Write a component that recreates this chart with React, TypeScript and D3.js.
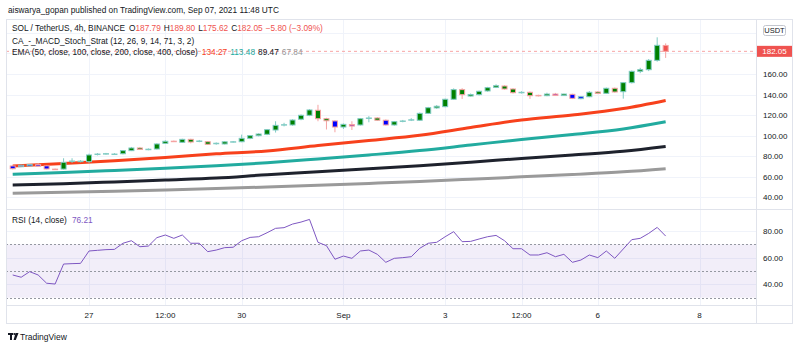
import React from "react";
import * as d3 from "d3";

// ---------- data ----------
const opens = [70.5,71.0,71.2,71.8,70.6,67.4,67.5,74.6,75.0,74.7,81.6,82.1,81.8,82.4,85.4,88.0,86.5,87.0,92.5,94.6,93.5,96.4,94.6,94.1,92.4,91.9,93.9,94.1,97.4,100.0,101.3,105.5,110.5,110.4,116.0,119.8,124.7,116.5,114.3,108.4,110.8,110.4,116.9,117.2,115.0,110.4,114.0,115.2,115.0,121.7,127.0,128.2,135.4,144.8,139.0,139.9,143.5,147.0,148.3,145.4,141.9,142.2,139.2,138.9,140.5,139.0,140.2,136.0,137.9,142.5,141.2,146.1,142.8,151.6,162.6,164.2,173.3,187.79];
const highs = [71.2,71.6,72.4,73.2,71.0,67.9,78.0,78.0,76.2,82.5,83.0,83.2,83.0,86.0,89.0,89.0,87.6,92.5,95.5,95.2,97.0,97.0,95.8,94.6,93.4,94.6,94.8,101.0,100.6,102.3,106.4,114.0,112.5,116.0,120.6,125.8,130.0,117.4,115.0,111.8,114.0,117.2,119.0,118.0,115.8,114.2,115.3,117.0,122.5,128.0,129.8,136.0,146.0,146.2,141.0,143.8,147.5,150.0,149.0,146.2,143.2,143.0,139.8,141.8,141.6,140.8,140.8,138.4,143.4,143.4,146.8,146.8,152.2,163.3,166.0,174.6,195.7,189.80];
const lows = [67.2,70.4,70.8,70.6,67.2,66.8,67.0,73.5,74.0,73.5,80.8,81.5,81.3,81.8,85.0,86.8,85.8,86.5,92.0,93.8,93.0,92.5,93.6,91.2,91.2,91.4,93.3,93.6,96.5,99.3,100.5,103.0,109.0,109.6,115.0,119.0,114.0,106.0,103.3,106.5,105.5,109.8,113.0,114.4,109.8,109.6,113.0,114.2,114.4,121.0,126.0,127.6,134.8,135.7,138.0,139.0,142.8,146.3,144.8,141.0,141.0,135.8,138.2,138.4,139.2,138.6,135.6,135.4,137.4,140.4,140.6,141.8,136.0,150.8,160.8,162.8,172.0,175.62];
const closes = [67.8,71.2,72.0,71.0,67.6,67.2,74.0,75.3,75.2,81.2,82.1,82.5,82.1,85.4,88.0,87.4,86.8,91.9,94.5,94.4,96.4,93.8,94.8,91.6,92.6,94.0,94.1,97.4,100.0,101.6,105.8,110.0,110.7,115.2,119.8,125.0,116.5,114.5,108.4,111.0,110.2,116.5,117.2,115.0,110.4,113.6,114.3,115.5,121.7,127.2,128.6,135.4,144.8,139.9,140.0,143.2,146.7,148.6,145.4,141.8,142.2,138.9,138.9,140.5,139.6,140.5,136.3,137.9,142.2,141.2,146.1,142.5,151.6,162.6,164.2,173.3,187.9,182.05];
// body colour code: g green, b blue, p purple, n none (doji), r red
const bodyCodes = [
  "b","p","b","b","b","n","g","n","n","g",
  "n","n","n","g","g","g","n","g","g","n",
  "g","g","n","g","n","g","n","g","g","g",
  "g","g","n","g","g","g","g","g","b","g",
  "p","g","n","g","b","g","n","n","g","g",
  "g","g","g","g","g","g","g","g","g","g",
  "n","g","n","g","p","g","b","b","g","g",
  "g","g","g","g","g","g","g","r",
];

const emaIdx = [0,6,12,18,24,30,36,42,48,54,60,66,72,77];
const ema50 = [70.5,72.9,75.6,78.7,82.3,85.1,90.4,95.3,100.3,107.9,115.2,120.1,126.4,134.27];
const ema100 = [62.4,64.1,66.1,68.2,70.7,73.6,77.3,81.2,85.5,90.9,96.3,101.1,106.5,113.48];
const ema200 = [52.0,53.3,55.0,56.8,58.7,62.0,64.8,67.8,70.8,74.2,77.8,81.2,84.8,89.47];
const ema400 = [43.9,44.9,46.0,47.2,48.5,50.0,51.7,53.5,55.4,57.6,59.9,62.2,64.8,67.84];

const rsi = [47.0,45.3,49.5,47.0,40.8,40.2,55.2,55.5,55.7,65.0,65.5,66.0,66.2,70.8,72.7,68.2,68.7,75.0,77.0,74.5,77.0,70.8,70.8,64.5,65.7,67.5,67.8,72.7,75.2,75.7,78.7,82.0,82.5,85.2,86.7,88.7,71.5,69.0,58.8,61.2,59.5,65.0,65.7,62.5,56.5,59.5,60.0,60.7,67.0,70.8,71.5,75.7,79.5,72.0,72.2,74.0,75.7,76.7,72.7,66.7,66.7,62.0,62.0,63.7,60.7,62.5,56.5,58.2,62.0,60.0,65.0,59.5,66.5,73.5,74.5,78.2,82.7,76.21];

const priceTicks = [40,60,80,100,120,140,160];
const priceGrid = [40,60,80,100,120,140,160,180,200];
const rsiTicks = [40,60,80];
const rsiDashed = [30,50,70];
const timeLabels = [
  { t: Date.UTC(2021,7,27,0), label: "27" },
  { t: Date.UTC(2021,7,28,12), label: "12:00" },
  { t: Date.UTC(2021,7,30,0), label: "30" },
  { t: Date.UTC(2021,8,1,0), label: "Sep" },
  { t: Date.UTC(2021,8,3,0), label: "3" },
  { t: Date.UTC(2021,8,4,12), label: "12:00" },
  { t: Date.UTC(2021,8,6,0), label: "6" },
  { t: Date.UTC(2021,8,8,0), label: "8" },
];
const START = Date.UTC(2021,7,25,12);
const BAR = 4 * 3600 * 1000;
const candleTimes = closes.map((_, i) => START + i * BAR);
const lastPrice = 182.05;

// ---------- layout ----------
const L = 6, R = 756, AX = 793, TOP = 20, MAINB = 209, RSIB = 305, BOT = 323;
const FONT = "'Liberation Sans', Arial, sans-serif";
const TXT = "#131722";
const TEAL = "#80cbc4";
const SALMON = "#f5a3a2";

export default function App() {
  const x = d3.scaleTime().domain([candleTimes[0], candleTimes[candleTimes.length - 1]]).range([12.7, 665.66]);
  const y = d3.scaleLinear().domain([40, 160]).range([197.3, 74]);
  const ry = d3.scaleLinear().domain([40, 80]).range([284.3, 231]);

  const emaLine = (vals: number[]) =>
    d3.line<number>().x((_, k) => x(candleTimes[emaIdx[k]])).y((v) => y(v)).curve(d3.curveMonotoneX)(vals) || "";
  const rsiLine = d3.line<number>().x((_, i) => x(candleTimes[i])).y((v) => ry(v))(rsi) || "";

  const fillFor = (c: string) =>
    c === "g" ? "#008000" : c === "b" ? "#0000ff" : c === "p" ? "#9c27b0" : c === "r" ? "#f05350" : null;

  const bw = 5;

  return (
    <svg width={800} height={348} style={{ position: "absolute", left: 0, top: 0, background: "#fff" }} fontFamily={FONT}>
      <defs>
        <clipPath id="mainClip"><rect x={L} y={TOP} width={R - L} height={MAINB - TOP} /></clipPath>
        <clipPath id="rsiClip"><rect x={L} y={MAINB} width={R - L} height={RSIB - MAINB} /></clipPath>
      </defs>
      <rect x={0} y={0} width={800} height={348} fill="#fff" />
      <text x={8} y={13} fontSize={8.3} fill={TXT}>aiswarya_gopan published on TradingView.com, Sep 07, 2021 11:48 UTC</text>

      {/* grid */}
      <g stroke="#f0f3fa" strokeWidth={1}>
        {timeLabels.map((d, i) => (
          <line key={"v" + i} x1={Math.round(x(d.t)) + 0.5} x2={Math.round(x(d.t)) + 0.5} y1={TOP} y2={RSIB} />
        ))}
        <g clipPath="url(#mainClip)">
          {priceGrid.map((p) => (
            <line key={"h" + p} x1={L} x2={R} y1={Math.round(y(p)) + 0.5} y2={Math.round(y(p)) + 0.5} />
          ))}
        </g>
        {rsiTicks.map((p) => (
          <line key={"r" + p} x1={L} x2={R} y1={Math.round(ry(p)) + 0.5} y2={Math.round(ry(p)) + 0.5} />
        ))}
      </g>

      {/* RSI band */}
      <rect x={L} y={ry(70)} width={R - L} height={ry(30) - ry(70)} fill="rgba(126,87,194,0.1)" />
      <g stroke="#9598a1" strokeDasharray="2,2" strokeWidth={1}>
        {rsiDashed.map((p) => (
          <line key={"d" + p} x1={L} x2={R} y1={Math.round(ry(p)) + 0.5} y2={Math.round(ry(p)) + 0.5} />
        ))}
      </g>
      <g clipPath="url(#rsiClip)">
        <path d={rsiLine} fill="none" stroke="#7e57c2" strokeWidth={1} />
      </g>

      {/* main pane */}
      <g clipPath="url(#mainClip)">
        <line x1={L} x2={R} y1={y(lastPrice)} y2={y(lastPrice)} stroke="#f7a5a5" strokeDasharray="3,3" strokeWidth={1} />
        <path d={emaLine(ema400)} fill="none" stroke="#9a9a9a" strokeWidth={3} />
        <path d={emaLine(ema200)} fill="none" stroke="#1e222d" strokeWidth={3} />
        <path d={emaLine(ema100)} fill="none" stroke="#22ab9f" strokeWidth={3} />
        <path d={emaLine(ema50)} fill="none" stroke="#f7411c" strokeWidth={3} />
        {closes.map((c, i) => {
          const o = opens[i];
          const cx = x(candleTimes[i]);
          const code = bodyCodes[i];
          const up = c >= o;
          const border = code === "r" ? SALMON : up ? TEAL : SALMON;
          const fill = fillFor(code);
          const top = y(Math.max(o, c));
          const h = Math.max(1.5, y(Math.min(o, c)) - top);
          return (
            <g key={i}>
              <line x1={cx} x2={cx} y1={y(highs[i])} y2={y(lows[i])} stroke={border} strokeWidth={1} />
              {fill ? (
                <rect x={cx - bw / 2} y={top} width={bw} height={h} fill={fill} stroke={border} strokeWidth={1} />
              ) : (
                <rect x={cx - bw / 2 - 0.5} y={top - 0.5} width={bw + 1} height={Math.max(1.5, h)} fill={border} />
              )}
            </g>
          );
        })}
      </g>

      {/* frame */}
      <g stroke="#e0e3eb" fill="none" strokeWidth={1}>
        <rect x={L + 0.5} y={TOP - 0.5} width={AX - L - 1} height={BOT - TOP + 1} />
        <line x1={R + 0.5} x2={R + 0.5} y1={TOP} y2={BOT} />
        <line x1={L} x2={AX} y1={MAINB + 0.5} y2={MAINB + 0.5} />
        <line x1={L} x2={AX} y1={RSIB + 0.5} y2={RSIB + 0.5} />
      </g>

      {/* legends */}
      <text x={12} y={31} fontSize={8.3} fill={TXT}>
        SOL / TetherUS, 4h, BINANCE
        <tspan dx={4}>O</tspan><tspan fill="#ef5350">187.79</tspan>
        <tspan dx={3}>H</tspan><tspan fill="#ef5350">189.80</tspan>
        <tspan dx={3}>L</tspan><tspan fill="#ef5350">175.62</tspan>
        <tspan dx={3}>C</tspan><tspan fill="#ef5350">182.05</tspan>
        <tspan dx={3} fill="#ef5350">−5.80 (−3.09%)</tspan>
      </text>
      <text x={12} y={43.5} fontSize={8.3} fill={TXT}>CA_-_MACD_Stoch_Strat (12, 26, 9, 14, 71, 3, 2)</text>
      <text x={12} y={55} fontSize={8.3} fill={TXT}>
        EMA (50, close, 100, close, 200, close, 400, close)
        <tspan dx={4} fill="#f7411c">134.27</tspan>
        <tspan dx={3} fill="#22ab9f">113.48</tspan>
        <tspan dx={3} fill={TXT}>89.47</tspan>
        <tspan dx={3} fill="#9a9a9a">67.84</tspan>
      </text>
      <text x={12} y={223} fontSize={8.3} fill={TXT}>
        RSI (14, close)<tspan dx={5} fill="#7e57c2">76.21</tspan>
      </text>

      {/* price axis */}
      {priceTicks.map((p) => (
        <text key={"pt" + p} x={763} y={y(p) + 3} fontSize={8} fill={TXT}>{p.toFixed(2)}</text>
      ))}
      {rsiTicks.map((p) => (
        <text key={"rt" + p} x={763} y={ry(p) + 3} fontSize={8} fill={TXT}>{p.toFixed(2)}</text>
      ))}
      <rect x={763.5} y={25.5} width={22} height={10} rx={2} fill="#fff" stroke="#c3c6ce" />
      <text x={774.5} y={33.2} fontSize={7.5} textAnchor="middle" fill={TXT}>USDT</text>
      <rect x={757} y={y(lastPrice) - 5.5} width={35} height={11} fill="#ef5350" />
      <text x={774.5} y={y(lastPrice) + 3} fontSize={8} textAnchor="middle" fill="#fff">{lastPrice.toFixed(2)}</text>

      {/* time axis */}
      {timeLabels.map((d, i) => (
        <text key={"tl" + i} x={x(d.t)} y={318} fontSize={8} textAnchor="middle" fill={TXT}>{d.label}</text>
      ))}

      {/* logo */}
      <g fill="#131722">
        <rect x={8} y={333} width={5} height={2} />
        <rect x={10} y={333} width={2} height={7} />
        <circle cx={14.3} cy={334} r={1} />
        <path d="M15.5,333 L18.5,333 L15.8,340 L13.6,340 Z" />
      </g>
      <text x={20} y={340} fontSize={8.5} fill={TXT}>TradingView</text>
    </svg>
  );
}
